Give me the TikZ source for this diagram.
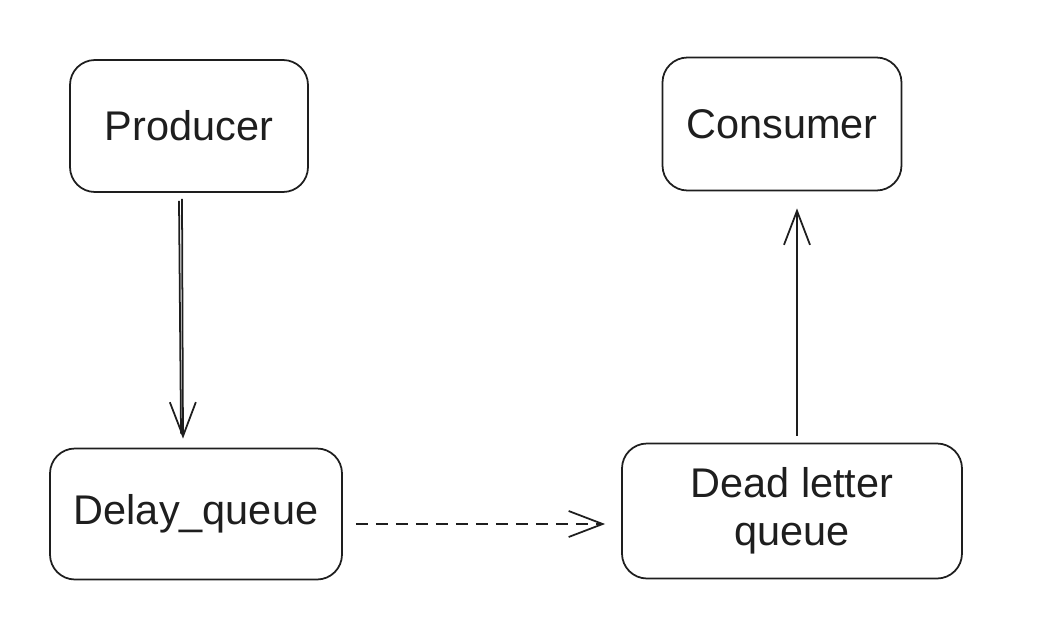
\documentclass[tikz,border=0pt]{standalone}
\usepackage{fontspec}
\setmainfont{Liberation Sans}
\usetikzlibrary{arrows.meta}
\definecolor{ink}{HTML}{1E1E1E}
\begin{document}
\begin{tikzpicture}[every edge/.style={draw, ink, line width=0.5pt}]
      \tikzset{stage/.style={draw=ink, line width=0.5pt, rounded corners=0.25cm, align=center, text=ink,
                 font=\fontsize{11.8}{13.7}\selectfont, inner sep=0pt},
               flow/.style={-{Straight Barb[length=0.34cm, width=0.26cm]}}}
      \useasboundingbox (0,0) rectangle (10.56,6.31);
%% Queues and clients
      	\node[stage, minimum width=2.38cm, minimum height=1.32cm] (prod) at (1.89,5.05) {Producer};
      	\node[stage, minimum width=2.39cm, minimum height=1.33cm] (cons) at (7.82,5.07) {Consumer};
    	\node[stage, minimum width=2.92cm, minimum height=1.31cm] (delay) at (1.96,1.17) {Delay\_queue};
  	    \node[stage, minimum width=3.40cm, minimum height=1.35cm] (dead) at (7.92,1.20) {Dead letter\\queue};
%Arrows
		\path ([xshift=-0.07cm, yshift=-0.06cm]prod.south) edge [flow] ([xshift=-0.13cm, yshift=0.09cm]delay.north);
		\path ([xshift=-0.10cm, yshift=-0.08cm]prod.south) edge ([xshift=-0.15cm, yshift=0.14cm]delay.north);
		\path ([xshift=0.13cm, yshift=-0.10cm]delay.east) edge [flow, dash pattern=on 0.12cm off 0.08cm] ([xshift=-0.16cm, yshift=-0.13cm]dead.west);
		\path ([xshift=0.05cm, yshift=0.07cm]dead.north) edge [flow] ([xshift=0.15cm, yshift=-0.17cm]cons.south);
	\end{tikzpicture}
\end{document}
